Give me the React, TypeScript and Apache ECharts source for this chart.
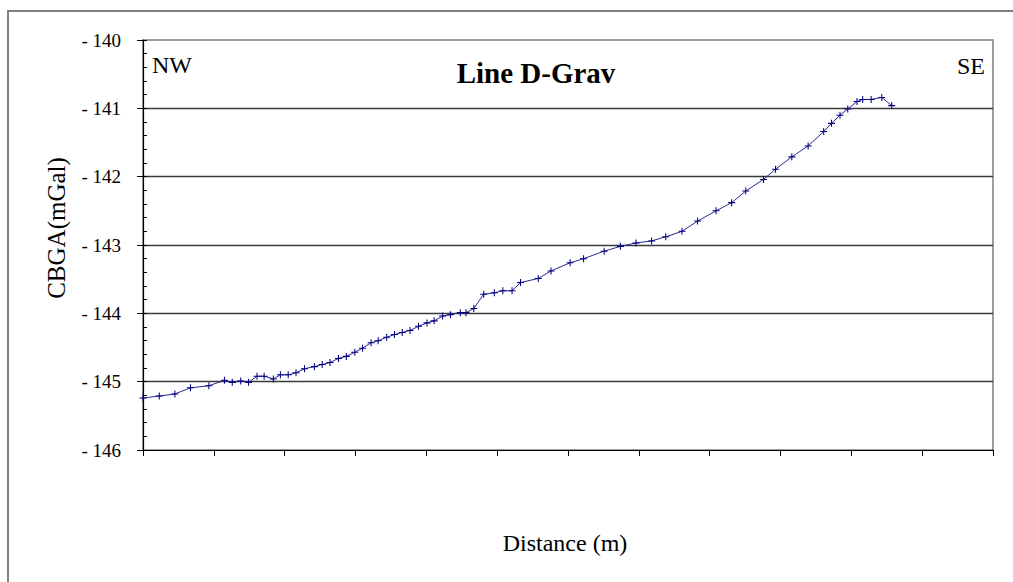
import React, { useEffect, useRef } from "react";
import * as echarts from "echarts";

// Station distance along the profile (m) and complete Bouguer gravity anomaly (mGal)
const distance: number[] = [
  0, 23, 45, 67, 93, 115, 126, 138, 149, 161, 171, 184, 194, 205, 216, 228, 242,
  253, 264, 276, 287, 299, 310, 322, 332, 344, 355, 366, 377, 389, 401, 411, 423,
  434, 448, 456, 467, 481, 496, 508, 521, 533, 558, 576, 603, 622, 651, 674, 696,
  718, 738, 761, 783, 809, 831, 851, 876, 893, 916, 939, 961, 972, 984, 995, 1008,
  1016, 1028, 1043, 1057,
];
const cbga: number[] = [
  -145.24, -145.21, -145.18, -145.09, -145.06, -144.98, -145.01, -144.99, -145.01,
  -144.92, -144.92, -144.96, -144.9, -144.9, -144.87, -144.81, -144.78, -144.75,
  -144.72, -144.66, -144.63, -144.57, -144.51, -144.43, -144.4, -144.35, -144.31,
  -144.28, -144.25, -144.19, -144.14, -144.11, -144.04, -144.02, -143.99, -143.99,
  -143.93, -143.72, -143.7, -143.67, -143.67, -143.55, -143.49, -143.38, -143.26,
  -143.2, -143.09, -143.02, -142.97, -142.94, -142.88, -142.8, -142.65, -142.5,
  -142.38, -142.21, -142.04, -141.89, -141.71, -141.55, -141.34, -141.22, -141.1,
  -141.01, -140.9, -140.87, -140.87, -140.84, -140.96,
];

const yMin = -146;
const yMax = -140;
const xMin = 0;
const xMax = 1200;

const SERIF = "Liberation Serif";
const PLUS = "path://M-0.6,-4H0.6V-0.6H4V0.6H0.6V4H-0.6V0.6H-4V-0.6H-0.6Z";

function label(text: string, x: number, y: number, size: number, align: string, extra: any = {}) {
  return {
    type: "text",
    x,
    y,
    ...extra,
    style: {
      text,
      fontFamily: SERIF,
      fontSize: size,
      fontWeight: extra.bold ? "bold" : "normal",
      fill: "#000",
      textAlign: align,
      textVerticalAlign: "middle",
    },
  };
}

export default function App() {
  const ref = useRef<HTMLDivElement>(null);

  useEffect(() => {
    if (!ref.current) return;
    const chart = echarts.init(ref.current, undefined, { renderer: "svg" });
    const points = distance.map((d, i) => [d, cbga[i]]);

    chart.setOption({
      animation: false,
      backgroundColor: "#ffffff",
      textStyle: { fontFamily: SERIF },
      grid: {
        left: 143,
        top: 40,
        right: 20,
        bottom: 132,
        show: true,
        borderColor: "#808080",
        borderWidth: 1.5,
        backgroundColor: "transparent",
      },
      xAxis: {
        type: "value",
        min: xMin,
        max: xMax,
        interval: 100,
        axisLine: { show: true, onZero: false, lineStyle: { color: "#000", width: 1.2 } },
        axisTick: { show: true, inside: false, length: 6, lineStyle: { color: "#000" } },
        axisLabel: { show: false },
        splitLine: { show: false },
      },
      yAxis: [
        {
          type: "value",
          min: yMin,
          max: yMax,
          interval: 1,
          position: "left",
          axisLine: { show: true, onZero: false, lineStyle: { color: "#000", width: 1.2 } },
          axisTick: { show: true, inside: false, length: 6, lineStyle: { color: "#000" } },
          axisLabel: {
            show: true,
            margin: 22,
            color: "#000",
            fontFamily: SERIF,
            fontSize: 19,
            formatter: (v: number) => "- " + Math.abs(v),
          },
          splitLine: {
            show: true,
            showMinLine: false,
            showMaxLine: false,
            lineStyle: { color: "#3a3a3a", width: 1.3 },
          },
        },
        {
          type: "value",
          min: yMin,
          max: yMax,
          interval: 0.2,
          position: "left",
          axisLine: { show: false },
          axisTick: { show: true, inside: true, length: 4, lineStyle: { color: "#000" } },
          axisLabel: { show: false },
          splitLine: { show: false },
        },
      ],
      graphic: [
        {
          type: "rect",
          shape: { x: 8, y: 11, width: 1200, height: 800 },
          style: { fill: "none", stroke: "#808080", lineWidth: 2 },
          silent: true,
          z: -10,
        },
        label("Line D-Grav", 536, 73, 29, "center", { bold: true }),
        label("NW", 152, 65, 24, "left"),
        label("SE", 985, 66, 24, "right"),
        label("CBGA(mGal)", 56, 228, 25, "center", { rotation: Math.PI / 2 }),
        label("Distance (m)", 565, 543, 24, "center"),
      ],
      series: [
        {
          type: "line",
          data: points,
          xAxisIndex: 0,
          yAxisIndex: 0,
          symbol: PLUS,
          symbolSize: 7,
          showSymbol: true,
          lineStyle: { color: "#2a2a95", width: 1 },
          itemStyle: { color: "#000080" },
          clip: false,
        },
      ],
    });

    return () => chart.dispose();
  }, []);

  return (
    <div
      ref={ref}
      style={{ position: "fixed", left: 0, top: 0, width: 1013, height: 582, background: "#fff" }}
    />
  );
}
